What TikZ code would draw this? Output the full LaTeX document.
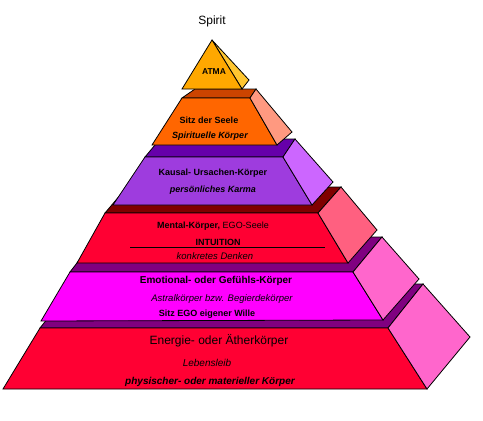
\documentclass[tikz,border=0pt]{standalone}
\usepackage{fontspec}
\setmainfont{Liberation Sans}
\usepackage{xcolor}
\definecolor{atmafront}{RGB}{255,168,0}
\definecolor{atmaside}{RGB}{255,198,48}
\definecolor{seelefront}{RGB}{255,102,0}
\definecolor{seeletop}{RGB}{204,68,0}
\definecolor{seeleside}{RGB}{255,153,128}
\definecolor{kausalfront}{RGB}{158,60,222}
\definecolor{kausaltop}{RGB}{102,0,170}
\definecolor{kausalside}{RGB}{204,102,255}
\definecolor{mentalfront}{RGB}{255,0,51}
\definecolor{mentaltop}{RGB}{128,0,0}
\definecolor{mentalside}{RGB}{255,96,128}
\definecolor{emofront}{RGB}{255,0,255}
\definecolor{emotop}{RGB}{128,0,128}
\definecolor{emoside}{RGB}{255,102,204}
\definecolor{energyfront}{RGB}{255,0,51}
\definecolor{energytop}{RGB}{128,0,128}
\definecolor{energyside}{RGB}{255,102,204}
\tikzset{
  face/.style={draw=black, line width=0.8pt},
  txt/.style={inner sep=0pt, text=black},
  hd/.style={txt, font=\fontsize{9}{10}\selectfont\bfseries},
  hdi/.style={txt, font=\fontsize{9}{10}\selectfont\bfseries\itshape},
  sub/.style={txt, font=\fontsize{9.5}{11}\selectfont\itshape},
  ttl/.style={txt, font=\fontsize{12}{14}\selectfont},
}

\begin{document}
\begin{tikzpicture}[x=1pt, y=-1pt]
  \useasboundingbox (0,0) rectangle (483,421);
  % Energie layer (bottom)
  \filldraw[face, fill=energytop]   (40,328) -- (388,328) -- (423,284) -- (75,284) -- cycle;
  \filldraw[face, fill=energyfront] (3,389) -- (40,328) -- (388,328) -- (427,389) -- cycle;
  \filldraw[face, fill=energyside]  (388,328) -- (423,284) -- (470,337) -- (427,389) -- cycle;
  % Emotional layer
  \filldraw[face, fill=emotop]   (70,272) -- (353,272) -- (382,237) -- (97,237) -- cycle;
  \filldraw[face, fill=emofront] (41,321) -- (70,272) -- (353,272) -- (383,320) -- cycle;
  \filldraw[face, fill=emoside]  (353,272) -- (382,237) -- (419,279) -- (383,320) -- cycle;
  % Mental layer
  \filldraw[face, fill=mentaltop]   (105,213) -- (318,213) -- (341,187) -- (127,187) -- cycle;
  \filldraw[face, fill=mentalfront] (77,263) -- (105,213) -- (318,213) -- (348,263) -- cycle;
  \filldraw[face, fill=mentalside]  (318,213) -- (341,187) -- (377,230) -- (348,263) -- cycle;
  % Kausal layer
  \filldraw[face, fill=kausaltop]   (145,157) -- (283,157) -- (295,139) -- (160,139) -- cycle;
  \filldraw[face, fill=kausalfront] (113,205) -- (145,157) -- (283,157) -- (312,205) -- cycle;
  \filldraw[face, fill=kausalside]  (283,157) -- (295,139) -- (333,182) -- (312,205) -- cycle;
  % Seele layer
  \filldraw[face, fill=seeletop]   (182,98) -- (250,98) -- (256,89) -- (195,89) -- cycle;
  \filldraw[face, fill=seelefront] (152,145) -- (182,98) -- (250,98) -- (277,145) -- cycle;
  \filldraw[face, fill=seeleside]  (250,98) -- (256,89) -- (292,132) -- (277,145) -- cycle;
  % ATMA tip
  \filldraw[face, fill=atmaside]  (212,40) -- (249,80) -- (242,89) -- cycle;
  \filldraw[face, fill=atmafront] (212,40) -- (242,89) -- (182,89) -- cycle;

  % labels
  \node[ttl] (spirit) at (212,21) {Spirit};
  \node[hd, font=\fontsize{8.5}{10}\selectfont\bfseries] (atma) at (214,72) {ATMA};
  \node[hd]  (seele)      at (209,120) {Sitz der Seele};
  \node[hdi] (spirituell) at (210,136) {Spirituelle Körper};
  \node[hd]  (kausal)     at (213,173) {Kausal- Ursachen-Körper};
  \node[hdi] (karma)      at (213,190) {persönliches Karma};
  \node[hd]  (mental)     at (213,226) {Mental-Körper, {\mdseries EGO-Seele}};
  \node[hd]  (intuition)  at (218,242) {INTUITION};
  \coordinate (ruleL) at (130,247);
  \coordinate (ruleR) at (325,247);
  \draw[line width=0.8pt] (ruleL) -- (ruleR);
  \node[sub] (denken)     at (215,256) {konkretes Denken};
  \node[hd, font=\fontsize{10}{12}\selectfont\bfseries] (emotional) at (216,281) {Emotional- oder Gefühls-Körper};
  \node[sub] (astral)     at (222,299) {Astralkörper bzw. Begierdekörper};
  \node[hd]  (ego)        at (207,314) {Sitz EGO eigener Wille};
  \node[ttl] (energie)    at (219,341) {Energie- oder Ätherkörper};
  \node[sub, font=\fontsize{10}{12}\selectfont\itshape] (lebensleib) at (207,363) {Lebensleib};
  \node[hdi, font=\fontsize{10}{12}\selectfont\bfseries\itshape] (physisch) at (210,382) {physischer- oder materieller Körper};
\end{tikzpicture}
\end{document}
